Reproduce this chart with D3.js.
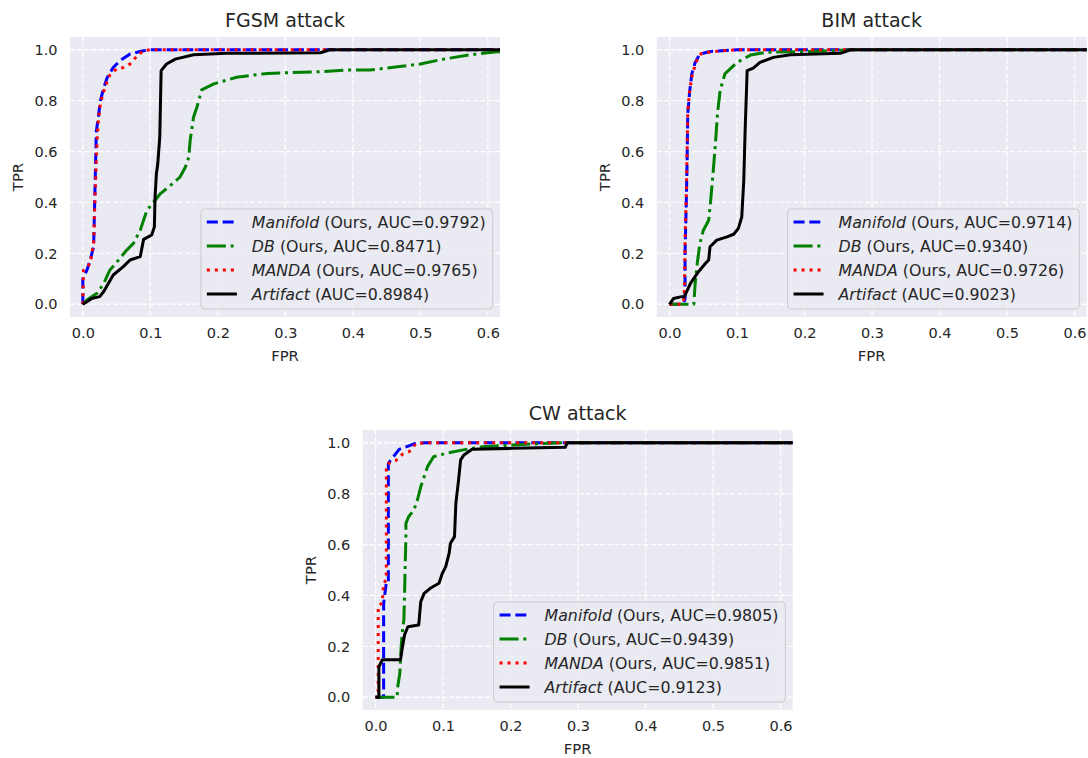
<!DOCTYPE html>
<html>
<head>
<meta charset="utf-8">
<script src="https://cdn.jsdelivr.net/npm/d3@7"></script>
<style>
  body { margin: 0; background: #fff; }
  text { font-family: "DejaVu Sans", sans-serif; fill: #262626; }
</style>
</head>
<body>
<script>
// ROC curves of four detectors under three attacks

const xTicks = [0, 0.1, 0.2, 0.3, 0.4, 0.5, 0.6];
const yTicks = [0, 0.2, 0.4, 0.6, 0.8, 1.0];
const methodNames = ['Manifold', 'DB', 'MANDA', 'Artifact'];
const methodNotes = ['Ours, ', 'Ours, ', 'Ours, ', ''];

const fgsmAuc = [0.9792, 0.8471, 0.9765, 0.8984];
const bimAuc = [0.9714, 0.9340, 0.9726, 0.9023];
const cwAuc = [0.9805, 0.9439, 0.9851, 0.9123];

// FGSM curves, [FPR, TPR]
const fgsmManifold = [[0, 0], [0, 0.10], [0.006, 0.134], [0.011, 0.174], [0.016, 0.226], [0.018, 0.45], [0.020, 0.68],
  [0.023, 0.735], [0.026, 0.80], [0.031, 0.85], [0.036, 0.89], [0.045, 0.93], [0.055, 0.957], [0.07, 0.983],
  [0.09, 0.996], [0.1, 1], [1, 1]];
const fgsmDb = [[0, 0], [0.006, 0.017], [0.021, 0.043], [0.031, 0.082], [0.04, 0.134], [0.053, 0.174], [0.065, 0.213],
  [0.075, 0.239], [0.085, 0.291], [0.095, 0.369], [0.105, 0.402], [0.115, 0.435], [0.13, 0.467], [0.144, 0.5],
  [0.152, 0.539], [0.157, 0.578], [0.159, 0.644], [0.164, 0.735], [0.169, 0.774], [0.173, 0.813], [0.176, 0.842],
  [0.194, 0.866], [0.228, 0.892], [0.273, 0.907], [0.352, 0.914], [0.391, 0.92], [0.426, 0.92], [0.46, 0.931],
  [0.5, 0.944], [0.534, 0.963], [0.574, 0.98], [0.613, 0.992], [0.7, 1], [1, 1]];
const fgsmManda = [[0, 0], [0.001, 0.134], [0.011, 0.16], [0.016, 0.24], [0.018, 0.42], [0.021, 0.64], [0.023, 0.72],
  [0.026, 0.79], [0.033, 0.855], [0.04, 0.90], [0.05, 0.925], [0.06, 0.93], [0.07, 0.944], [0.082, 0.98],
  [0.09, 0.996], [0.1, 1], [1, 1]];
const fgsmArtifact = [[0, 0], [0.006, 0.01], [0.013, 0.023], [0.025, 0.03], [0.031, 0.05], [0.045, 0.115],
  [0.06, 0.148], [0.07, 0.174], [0.085, 0.187], [0.087, 0.213], [0.09, 0.255], [0.102, 0.272], [0.106, 0.304],
  [0.107, 0.422], [0.109, 0.513], [0.111, 0.552], [0.114, 0.657], [0.116, 0.918], [0.124, 0.944], [0.137, 0.963],
  [0.164, 0.98], [0.213, 0.986], [0.352, 0.988], [0.366, 1], [1, 1]];

// BIM curves
const bimManifold = [[0, 0], [0.02, 0], [0.023, 0.02], [0.023, 0.2], [0.025, 0.42], [0.026, 0.55], [0.027, 0.748],
  [0.03, 0.84], [0.033, 0.905], [0.038, 0.95], [0.045, 0.983], [0.06, 0.993], [0.095, 0.999], [0.1, 1], [1, 1]];
const bimDb = [[0, 0], [0.036, 0], [0.038, 0.082], [0.041, 0.16], [0.045, 0.239], [0.05, 0.29], [0.058, 0.33],
  [0.061, 0.409], [0.064, 0.5], [0.068, 0.63], [0.071, 0.748], [0.075, 0.84], [0.082, 0.905], [0.1, 0.95],
  [0.12, 0.979], [0.144, 0.99], [0.203, 0.993], [0.233, 0.996], [0.273, 1], [1, 1]];
const bimManda = [[0, 0], [0.018, 0], [0.021, 0.01], [0.022, 0.06], [0.023, 0.25], [0.025, 0.45], [0.026, 0.6],
  [0.027, 0.76], [0.03, 0.845], [0.034, 0.905], [0.04, 0.955], [0.047, 0.985], [0.065, 0.993], [0.1, 1], [1, 1]];
const bimArtifact = [[0, 0], [0.006, 0.023], [0.018, 0.03], [0.022, 0.03], [0.031, 0.082], [0.043, 0.128],
  [0.053, 0.16], [0.058, 0.174], [0.06, 0.226], [0.07, 0.252], [0.085, 0.265], [0.095, 0.275], [0.102, 0.298],
  [0.107, 0.343], [0.11, 0.487], [0.112, 0.683], [0.115, 0.918], [0.124, 0.928], [0.134, 0.95], [0.154, 0.97],
  [0.179, 0.98], [0.253, 0.986], [0.268, 1], [1, 1]];

// CW curves
const cwManifold = [[0, 0], [0.012, 0], [0.012, 0.369], [0.015, 0.43], [0.016, 0.45], [0.019, 0.45], [0.019, 0.919],
  [0.022, 0.93], [0.025, 0.94], [0.035, 0.974], [0.059, 0.997], [0.074, 1], [1, 1]];
const cwDb = [[0, 0], [0.032, 0], [0.033, 0.042], [0.036, 0.094], [0.037, 0.147], [0.038, 0.2], [0.04, 0.264],
  [0.042, 0.304], [0.043, 0.408], [0.045, 0.631], [0.045, 0.683], [0.049, 0.709], [0.057, 0.736], [0.062, 0.775],
  [0.067, 0.827], [0.072, 0.866], [0.077, 0.906], [0.086, 0.945], [0.104, 0.958], [0.128, 0.971], [0.158, 0.984],
  [0.198, 0.991], [0.277, 1], [1, 1]];
const cwManda = [[0, 0], [0.004, 0], [0.004, 0.36], [0.01, 0.37], [0.012, 0.45], [0.016, 0.46], [0.016, 0.91],
  [0.02, 0.92], [0.03, 0.93], [0.04, 0.955], [0.05, 0.965], [0.06, 0.997], [0.074, 1], [1, 1]];
const cwArtifact = [[0, 0], [0.005, 0], [0.005, 0.12], [0.01, 0.147], [0.037, 0.147], [0.04, 0.2], [0.043, 0.245],
  [0.048, 0.277], [0.064, 0.284], [0.067, 0.376], [0.072, 0.408], [0.081, 0.428], [0.094, 0.448], [0.099, 0.487],
  [0.104, 0.513], [0.109, 0.565], [0.111, 0.605], [0.117, 0.631], [0.119, 0.762], [0.123, 0.853], [0.126, 0.932],
  [0.131, 0.952], [0.143, 0.974], [0.202, 0.978], [0.281, 0.982], [0.284, 1], [1, 1]];

// line styles per method (blue dashed, green dash-dot, red dotted, black solid)
const lineColors = ['#0000ff', '#008000', '#ff0000', '#000000'];
const lineDashes = ['11,4.8', '19,4.8,3,4.8', '3,5', null];

const width = 1088;
const height = 758;

const svg = d3.select('body')
    .append('svg')
    .attr('width', width)
    .attr('height', height);

svg.append('rect').attr('width', width).attr('height', height).style('fill', '#fff');

// panel layout: top-left corner of each axes box
const panels = [
    {title: 'FGSM attack', left: 70, top: 37, auc: fgsmAuc, curves: [fgsmManifold, fgsmDb, fgsmManda, fgsmArtifact]},
    {title: 'BIM attack', left: 656.7, top: 37, auc: bimAuc, curves: [bimManifold, bimDb, bimManda, bimArtifact]},
    {title: 'CW attack', left: 362.7, top: 430, auc: cwAuc, curves: [cwManifold, cwDb, cwManda, cwArtifact]}
];
const boxW = 430;
const boxH = 280;

panels.forEach(function(p, i) {
    const g = svg.append('g').attr('transform', `translate(${p.left},${p.top})`);

    const x = d3.scaleLinear().domain([-0.019, 0.618]).range([0, boxW]);
    const y = d3.scaleLinear().domain([-0.05, 1.05]).range([boxH, 0]);

    // grey background
    g.append('rect')
        .attr('width', boxW)
        .attr('height', boxH)
        .style('fill', '#eaeaf2');

    // white dashed grid
    g.selectAll('line.gx')
        .data(xTicks)
        .enter()
        .append('line')
        .attr('x1', d => x(d)).attr('x2', d => x(d))
        .attr('y1', 0).attr('y2', boxH)
        .style('stroke', '#fff').style('stroke-width', 1.3).style('stroke-dasharray', '5,2.2');
    g.selectAll('line.gy')
        .data(yTicks)
        .enter()
        .append('line')
        .attr('y1', d => y(d)).attr('y2', d => y(d))
        .attr('x1', 0).attr('x2', boxW)
        .style('stroke', '#fff').style('stroke-width', 1.3).style('stroke-dasharray', '5,2.2');

    // axes ticks, no domain line, seaborn style
    const xAxis = g.append('g')
        .attr('transform', `translate(0,${boxH})`)
        .call(d3.axisBottom(x).tickValues(xTicks).tickFormat(d3.format('.1f')).tickSize(0).tickPadding(11));
    const yAxis = g.append('g')
        .call(d3.axisLeft(y).tickValues(yTicks).tickFormat(d3.format('.1f')).tickSize(0).tickPadding(12.5));
    [xAxis, yAxis].forEach(function(a) {
        a.select('.domain').remove();
        a.selectAll('text')
            .style('font-family', '"DejaVu Sans", sans-serif')
            .style('font-size', '14.5px')
            .style('fill', '#262626');
    });

    g.append('text')
        .attr('x', boxW / 2)
        .attr('y', boxH + 44)
        .attr('text-anchor', 'middle')
        .style('font-size', '14.8px')
        .text('FPR');
    g.append('text')
        .attr('transform', `translate(-47,${boxH / 2}) rotate(-90)`)
        .attr('text-anchor', 'middle')
        .style('font-size', '14.8px')
        .text('TPR');
    g.append('text')
        .attr('x', boxW / 2)
        .attr('y', -10)
        .attr('text-anchor', 'middle')
        .style('font-size', '19px')
        .text(p.title);

    // curves, clipped to the axes box
    g.append('clipPath').attr('id', 'clip' + i)
        .append('rect').attr('width', boxW).attr('height', boxH);

    const line = d3.line().x(d => x(d[0])).y(d => y(d[1]));
    const curveGroup = g.append('g').attr('clip-path', `url(#clip${i})`);
    p.curves.forEach(function(c, k) {
        curveGroup.append('path')
            .datum(c)
            .attr('d', line)
            .style('fill', 'none')
            .style('stroke', lineColors[k])
            .style('stroke-width', 3)
            .style('stroke-linejoin', 'round')
            .style('stroke-dasharray', lineDashes[k]);
    });

    // legend in the lower right corner
    const legend = g.append('g');
    const frame = legend.append('rect')
        .attr('rx', 4)
        .style('fill', '#eaeaf2')
        .style('fill-opacity', 0.8)
        .style('stroke', '#cccccc')
        .style('stroke-width', 1);
    let maxLen = 0;
    methodNames.forEach(function(name, k) {
        const rowY = 13 + k * 24;
        legend.append('line')
            .attr('x1', 6).attr('x2', 36)
            .attr('y1', rowY).attr('y2', rowY)
            .style('stroke', lineColors[k])
            .style('stroke-width', 3)
            .style('stroke-dasharray', lineDashes[k]);
        const t = legend.append('text')
            .attr('x', 51)
            .attr('y', rowY)
            .attr('dy', '0.35em')
            .style('font-size', '15.8px');
        t.append('tspan').style('font-style', 'italic').text(name);
        t.append('tspan').text(` (${methodNotes[k]}AUC=${p.auc[k].toFixed(4)})`);
        maxLen = Math.max(maxLen, t.node().getComputedTextLength());
    });
    const legW = 51 + maxLen + 7;
    const legH = 100;
    frame.attr('width', legW).attr('height', legH);
    legend.attr('transform', `translate(${boxW - 7.3 - legW},${boxH - 8 - legH})`);
});
</script>
</body>
</html>
